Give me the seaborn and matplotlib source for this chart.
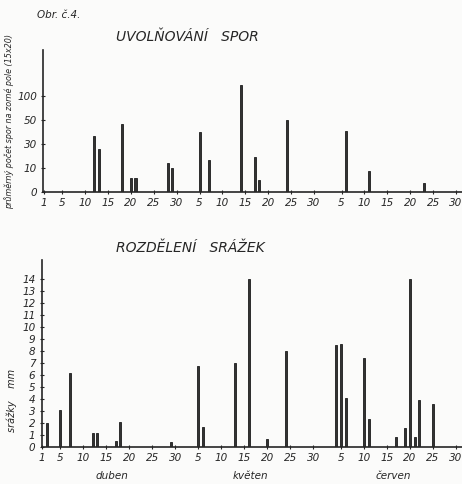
import numpy as np
import pandas as pd
import matplotlib
matplotlib.use("Agg")
import matplotlib.pyplot as plt
import seaborn as sns

# day numbers: 1 = 1 April, 31 = 1 May, 62 = 1 June
spore_days = [12, 13, 18, 20, 21, 28, 29, 35, 37, 44, 47, 48, 54, 67, 72, 84]
spore_counts = [37, 26, 47, 6, 6, 14, 10, 40, 17, 145, 19, 5, 50, 41, 9, 4]

rain_days = [2, 5, 7, 12, 13, 17, 18, 29, 35, 36, 43, 46, 50, 54,
             65, 66, 67, 71, 72, 78, 80, 81, 82, 83, 86]
rain_mm = [2.0, 3.1, 6.2, 1.2, 1.2, 0.5, 2.1, 0.4, 6.8, 1.7, 7.0, 14.0, 0.7, 8.0,
           8.5, 8.6, 4.1, 7.4, 2.3, 0.8, 1.6, 14.0, 0.8, 3.9, 3.6]

# hand drawn scale of the spore axis: equal steps for 0, 10, 30, 50, 100 ...
spore_levels = [0, 10, 30, 50, 100, 200, 300]
spore_ticks = [0, 10, 30, 50, 100]
rain_ticks = list(range(0, 15))

day_ticks = [1, 5, 10, 15, 20, 25, 30, 35, 40, 45, 50, 55, 60, 66, 71, 76, 81, 86, 91]
day_labels = ["1", "5", "10", "15", "20", "25", "30", "5", "10", "15", "20", "25", "30",
              "5", "10", "15", "20", "25", "30"]
months = ["duben", "květen", "červen"]

sns.set_style("ticks")
plt.rcParams["font.family"] = ["DejaVu Sans"]
ink = "#262626"
paper = "#fbfbfa"

fig = plt.figure(figsize=(4.62, 4.84), dpi=100, facecolor=paper)
ax1 = fig.add_axes([0.094, 0.603, 0.906, 0.293])
ax2 = fig.add_axes([0.090, 0.0764, 0.910, 0.386])

idx = np.arange(len(spore_levels))
ax1.set_yscale("function",
               functions=(lambda v: np.interp(v, spore_levels, idx),
                          lambda l: np.interp(l, idx, spore_levels)))

df1 = pd.DataFrame({"day": spore_days, "count": spore_counts})
df2 = pd.DataFrame({"day": rain_days, "mm": rain_mm})

bar_kw = dict(native_scale=True, width=0.45, errorbar=None, color="#333333",
              saturation=1, edgecolor="#1c1c1c", linewidth=0.6)
sns.barplot(data=df1, x="day", y="count", ax=ax1, **bar_kw)
sns.barplot(data=df2, x="day", y="mm", ax=ax2, **bar_kw)

ax1.set_xlim(0.9, 92.3)
ax1.set_ylim(0, 290)
ax1.set_yticks(spore_ticks)
ax1.set_yticklabels([str(t) for t in spore_ticks])

ax2.set_xlim(0.9, 92.3)
ax2.set_ylim(0, 15.6)
ax2.set_yticks(rain_ticks)
ax2.set_yticklabels([str(t) for t in rain_ticks])

for ax in (ax1, ax2):
    ax.set_facecolor(paper)
    sns.despine(ax=ax)
    for s in ("left", "bottom"):
        ax.spines[s].set_color(ink)
        ax.spines[s].set_linewidth(1.2)
    ax.set_xticks(day_ticks)
    ax.set_xticklabels(day_labels)
    ax.set_xlabel("")
    ax.set_ylabel("")
    ax.tick_params(axis="both", colors=ink, labelsize=7.5, width=0.8, length=3,
                   direction="inout", pad=3)
    for lab in ax.get_xticklabels() + ax.get_yticklabels():
        lab.set_fontstyle("italic")

fig.text(37 / 462, 1 - 15 / 484, "Obr. č.4.", fontsize=7.5, style="italic",
         color=ink, va="center")
fig.text(187 / 462, 1 - 37 / 484, "UVOLŇOVÁNÍ   SPOR", fontsize=10, style="italic",
         color=ink, ha="center", va="center")
fig.text(190 / 462, 1 - 248 / 484, "ROZDĚLENÍ   SRÁŽEK", fontsize=10, style="italic",
         color=ink, ha="center", va="center")
fig.text(9 / 462, 1 - 122 / 484, "průměrný počet spor na zorné pole (15x20)",
         fontsize=5.8, style="italic", color=ink, rotation=90, ha="center", va="center")
fig.text(12 / 462, 1 - 400 / 484, "srážky    mm", fontsize=7, style="italic",
         color=ink, rotation=90, ha="center", va="center")

for name, x in zip(months, [112, 250, 393]):
    fig.text(x / 462, 1 - 476 / 484, name, fontsize=7.5, style="italic",
             color=ink, ha="center", va="center")

fig.savefig("out.png", dpi=100, facecolor=paper)
